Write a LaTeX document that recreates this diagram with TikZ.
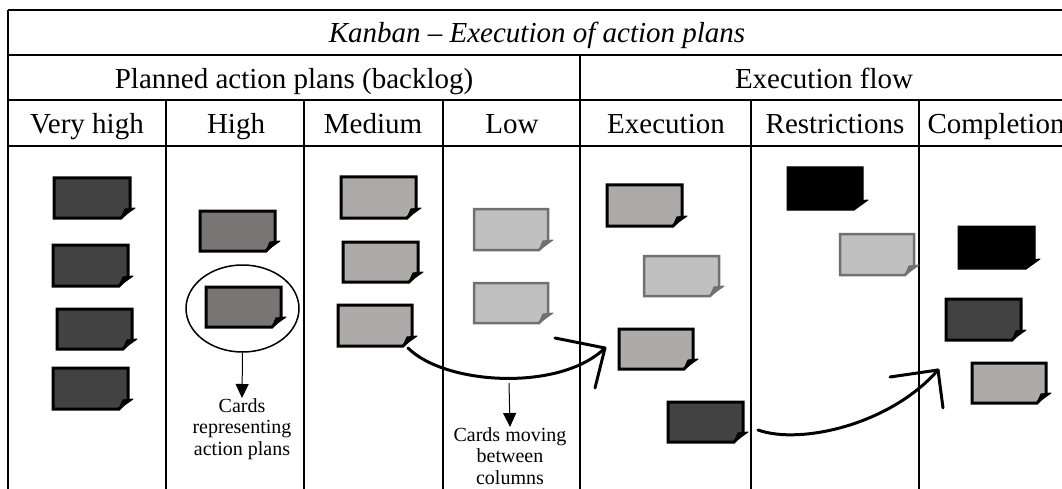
\documentclass[tikz,border=0pt]{standalone}
\usepackage{fontspec}
\setmainfont{Liberation Serif}
\usetikzlibrary{fit,arrows.meta,shapes.geometric}

\definecolor{cdark}{HTML}{424242}
\definecolor{cmid}{HTML}{7A7575}
\definecolor{clight}{HTML}{AEAAAA}
\definecolor{cpale}{HTML}{C0C0C0}
\definecolor{cpaleedge}{HTML}{707070}

\tikzset{
  grid/.style={line width=2pt, black},
  head/.style={font=\fontsize{29}{34}\selectfont, inner sep=0pt, anchor=base},
  note/.style={font=\fontsize{20}{21.5}\selectfont, align=center, inner sep=0pt},
  pointer/.style={line width=1pt, -{Triangle[width=13pt,length=14pt]}},
  flow/.style={line width=3pt, line cap=round},
  cardbox/.style={inner sep=0pt, outer sep=0pt},
}

% card: name, fill, border, border width, top-left, bottom-right
\newcommand\kcard[6]{%
  \path #5 coordinate (#1-nw) #6 coordinate (#1-se);
  \node[cardbox, fit=(#1-nw)(#1-se)] (#1) {};
  \filldraw[fill=#2, draw=#3, line width=#4, line join=miter]
    (#1.north west) -- (#1.north east) -- ([yshift=9pt]#1.south east)
    -- ([xshift=-9pt]#1.south east) -- (#1.south west) -- cycle;
  \filldraw[fill=#3, draw=#3, line width=1pt, line join=round]
    ([xshift=-5pt,yshift=9pt]#1.south east) -- ([xshift=5pt,yshift=10pt]#1.south east)
    -- ([xshift=-9pt]#1.south east) -- cycle;
}

\begin{document}
\begin{tikzpicture}[x=1pt,y=-1pt]
\useasboundingbox (0,0) rectangle (1062,489);
\clip (0,0) rectangle (1062,489);

% table grid
\draw[grid] (8,10) -- (1075,10);
\draw[grid] (8,55) -- (1075,55);
\draw[grid] (8,100) -- (1075,100);
\draw[grid] (8,146) -- (1075,146);
\draw[grid] (8,10) -- (8,495);
\draw[grid] (580,55) -- (580,495);
\foreach \x in {166,304,443,751,919} \draw[grid] (\x,100) -- (\x,495);

% headings
\node[head] (title) at (537,43) {\itshape Kanban – Execution of action plans};
\node[head] (backlog) at (294,89) {Planned action plans (backlog)};
\node[head] (flowhead) at (824,89) {Execution flow};
\node[head] (veryhigh) at (87,133.5) {Very high};
\node[head] (high) at (236,133.5) {High};
\node[head] (medium) at (373,133.5) {Medium};
\node[head] (low) at (512,133.5) {Low};
\node[head] (execution) at (666,133.5) {Execution};
\node[head] (restrictions) at (835,133.5) {Restrictions};
\node[head] (completion) at (996,133.5) {Completion};

% very high
\kcard{vh1}{cdark}{black}{3pt}{(54,178)}{(130,218)}
\kcard{vh2}{cdark}{black}{3pt}{(53,245)}{(128,286)}
\kcard{vh3}{cdark}{black}{3pt}{(57,309)}{(132,349)}
\kcard{vh4}{cdark}{black}{3pt}{(53,368)}{(128,409)}
% high
\kcard{hi1}{cmid}{black}{3pt}{(200,211)}{(275,251)}
\kcard{hi2}{cmid}{black}{3pt}{(206,287)}{(281,327)}
% medium
\kcard{me1}{clight}{black}{3pt}{(341,177)}{(416,218)}
\kcard{me2}{clight}{black}{3pt}{(343,242)}{(418,282)}
\kcard{me3}{clight}{black}{3pt}{(338,305)}{(412,346)}
% low
\kcard{lo1}{cpale}{cpaleedge}{2.5pt}{(474,209)}{(548,250)}
\kcard{lo2}{cpale}{cpaleedge}{2.5pt}{(474,283)}{(548,323)}
% execution
\kcard{ex1}{clight}{black}{3pt}{(607,185)}{(682,226)}
\kcard{ex2}{cpale}{cpaleedge}{2.5pt}{(644,256)}{(719,296)}
\kcard{ex3}{clight}{black}{3pt}{(619,329)}{(693,369)}
\kcard{ex4}{cdark}{black}{3pt}{(668,402)}{(743,442)}
% restrictions
\kcard{re1}{black}{black}{1pt}{(787,167)}{(863,210)}
\kcard{re2}{cpale}{cpaleedge}{2.5pt}{(840,234)}{(914,275)}
% completion
\kcard{co1}{black}{black}{1pt}{(958,226)}{(1035,269)}
\kcard{co2}{cdark}{black}{3pt}{(946,299)}{(1021,340)}
\kcard{co3}{clight}{black}{3pt}{(972,363)}{(1046,403)}

% highlighted card and its label
\node[draw, line width=1.5pt, ellipse, minimum width=113pt, minimum height=87pt, inner sep=0pt]
  (ring) at (242.5,308.5) {};
\node[note, anchor=north] (cardsnote) at (242,398) {Cards\\representing\\action plans};
\draw[pointer] (ring.south) -- (cardsnote.north);

% card movement between columns
\coordinate (m1start) at (408,348);
\coordinate (m1tip) at (605,348);
\draw[flow] (m1start) .. controls (445,385) and (560,392) .. (m1tip);
\draw[flow] (m1tip) -- ++(-50,-10);
\draw[flow] (m1tip) -- ++(-10,40);

\coordinate (m2start) at (758,430);
\coordinate (m2tip) at (938,370);
\draw[flow] (m2start) .. controls (800,445) and (890,425) .. (m2tip);
\draw[flow] (m2tip) -- ++(-48,7);
\draw[flow] (m2tip) -- ++(5,38);

\coordinate (movefrom) at (509,383);
\node[note, anchor=north] (movenote) at (510,427) {Cards moving\\between\\columns};
\draw[pointer] (movefrom) -- (movenote.north);
\end{tikzpicture}
\end{document}
